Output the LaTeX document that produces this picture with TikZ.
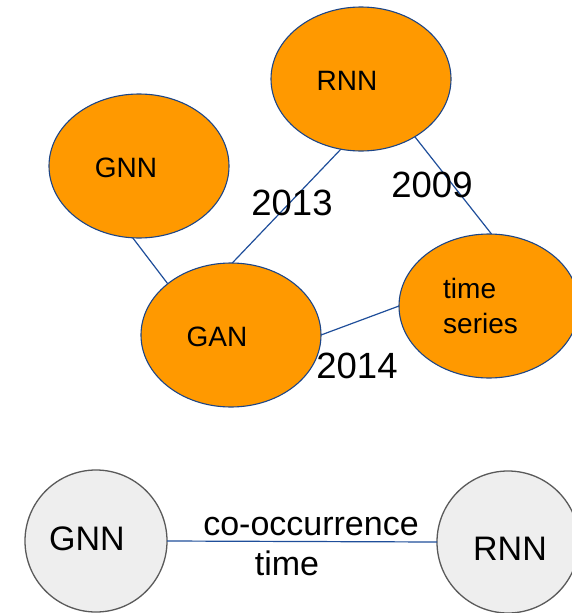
\documentclass[tikz,border=0pt]{standalone}
\usepackage{fontspec}
\setmainfont{Liberation Sans}
\usetikzlibrary{shapes.geometric}
\definecolor{orng}{HTML}{FF9900}
\definecolor{bordblue}{HTML}{1C4587}
\definecolor{linkblue}{HTML}{1F4E9A}
\definecolor{lgray}{HTML}{EEEEEE}
\definecolor{dgray}{HTML}{595959}
\tikzset{
  topic/.style={ellipse, draw=bordblue, fill=orng, line width=1.1pt, minimum width=180pt, minimum height=144pt, inner sep=0pt, outer sep=0pt},
  circ/.style={circle, draw=dgray, fill=lgray, line width=1.3pt, minimum size=142pt, inner sep=0pt, outer sep=0pt},
  lbl/.style={anchor=base, inner sep=0pt, font=\fontsize{28}{33}\selectfont},
  yearlbl/.style={anchor=base, inner sep=0pt, font=\fontsize{36.5}{42}\selectfont},
  blbl/.style={anchor=base, inner sep=0pt, font=\fontsize{34}{40}\selectfont},
  link/.style={draw=linkblue, line width=1.2pt},
}
\begin{document}
\begin{tikzpicture}[x=1pt,y=-1pt]
\useasboundingbox (0,0) rectangle (572,613);
% top graph
\node[topic] (rnn) at (361,79) {};
\node[topic] (gnn) at (139,166) {};
\node[topic] (gan) at (231,335) {};
\node[topic] (ts) at (489,306) {};
\draw[link] (gnn.265) -- (gan.141);
\draw[link] (rnn.254) -- (gan.89);
\draw[link] (rnn.313) -- (ts.88);
\draw[link] (gan.east) -- (ts.west);
\node[lbl] (trnn) at (347,90) {RNN};
\node[lbl] (tgnn) at (126,177) {GNN};
\node[lbl] (tgan) at (217,346) {GAN};
\node[lbl, anchor=base west] (tts1) at (443,298) {time};
\node[lbl, anchor=base west] (tts2) at (443,333) {series};
\node[yearlbl] (y2013) at (292,215) {2013};
\node[yearlbl] (y2009) at (432,197) {2009};
\node[yearlbl] (y2014) at (357,378) {2014};
% bottom legend
\node[circ] (bgnn) at (96,541) {};
\node[circ] (brnn) at (508,542) {};
\draw[link] (bgnn.east) -- (brnn.west);
\node[blbl] (tbgnn) at (87,550) {GNN};
\node[blbl] (tbrnn) at (510,560) {RNN};
\node[blbl] (tco) at (311,535) {co-occurrence};
\node[blbl] (ttime) at (287,575) {time};
\end{tikzpicture}
\end{document}
